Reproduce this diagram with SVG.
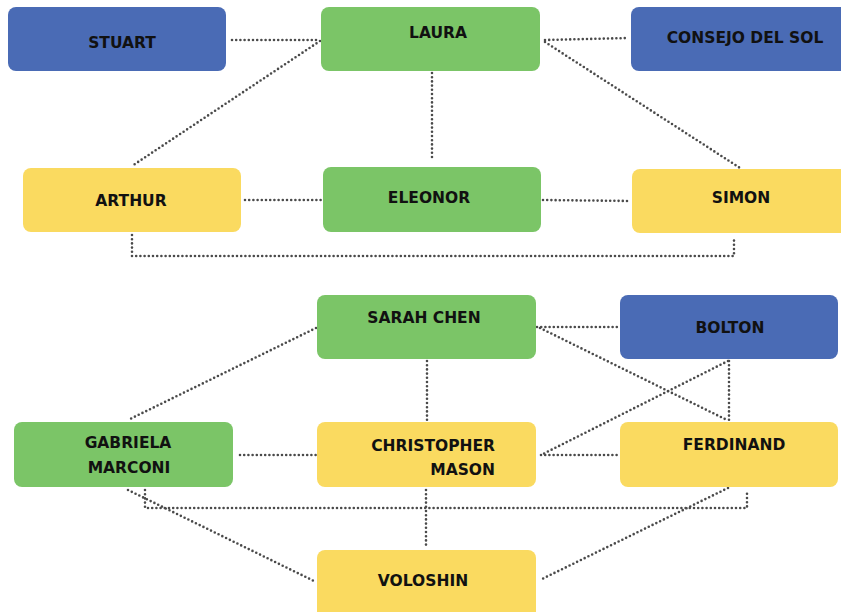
<svg xmlns="http://www.w3.org/2000/svg" width="841" height="612" viewBox="0 0 841 612">
<style>
.n{stroke:none}
.blue{fill:#4A6BB5}
.green{fill:#7BC567}
.yellow{fill:#FADA60}
text{font-family:"DejaVu Sans","Liberation Sans",sans-serif;font-weight:bold;font-size:15.5px;fill:#111;text-anchor:middle}
.c line,.c polyline{stroke:#4a4a4a;stroke-width:2.6;stroke-dasharray:0 4.2;stroke-linecap:round;fill:none}
</style>
<rect width="841" height="612" fill="#fff"/>
<g class="c" id="connectors">
<line x1="232" y1="40" x2="320" y2="40"/>
<line x1="320" y1="41" x2="132" y2="166"/>
<line x1="432" y1="73" x2="432" y2="161"/>
<line x1="545" y1="40" x2="628" y2="38"/>
<line x1="545" y1="42" x2="740" y2="168"/>
<line x1="245" y1="200" x2="322" y2="200"/>
<line x1="543" y1="200" x2="631" y2="201"/>
<polyline points="132,235 132,256 734,256 734,237"/>
<line x1="537" y1="327" x2="619" y2="327"/>
<line x1="540" y1="328" x2="727" y2="420"/>
<line x1="427" y1="361" x2="427" y2="420"/>
<line x1="316" y1="328" x2="128" y2="420"/>
<line x1="240" y1="455" x2="316" y2="455"/>
<line x1="728" y1="361" x2="541" y2="455"/>
<line x1="729" y1="361" x2="729" y2="420"/>
<line x1="541" y1="455" x2="619" y2="455"/>
<line x1="128" y1="490" x2="316" y2="582"/>
<line x1="728" y1="488" x2="540" y2="580"/>
<line x1="426" y1="490" x2="426" y2="548"/>
<polyline points="145,490 145,508 747,508 747,490"/>
</g>
<g id="stuart"><rect class="n blue" x="8" y="7" width="218" height="64" rx="8"/><text x="122" y="48">STUART</text></g>
<g id="laura"><rect class="n green" x="321" y="7" width="219" height="64" rx="8"/><text x="438" y="38">LAURA</text></g>
<g id="consejo"><rect class="n blue" x="631" y="7" width="220" height="64" rx="8"/><text x="745" y="43">CONSEJO DEL SOL</text></g>
<g id="arthur"><rect class="n yellow" x="23" y="168" width="218" height="64" rx="8"/><text x="131" y="206">ARTHUR</text></g>
<g id="eleonor"><rect class="n green" x="323" y="167" width="218" height="65" rx="8"/><text x="429" y="203">ELEONOR</text></g>
<g id="simon"><rect class="n yellow" x="632" y="169" width="220" height="64" rx="8"/><text x="741" y="203">SIMON</text></g>
<g id="sarah"><rect class="n green" x="317" y="295" width="219" height="64" rx="8"/><text x="424" y="323">SARAH CHEN</text></g>
<g id="bolton"><rect class="n blue" x="620" y="295" width="218" height="64" rx="8"/><text x="730" y="333">BOLTON</text></g>
<g id="gabriela"><rect class="n green" x="14" y="422" width="219" height="65" rx="8"/><text x="128" y="448">GABRIELA</text><text x="129" y="473">MARCONI</text></g>
<g id="christopher"><rect class="n yellow" x="317" y="422" width="219" height="65" rx="8"/><text x="495" y="451" style="text-anchor:end">CHRISTOPHER</text><text x="495" y="475" style="text-anchor:end">MASON</text></g>
<g id="ferdinand"><rect class="n yellow" x="620" y="422" width="218" height="65" rx="8"/><text x="734" y="450">FERDINAND</text></g>
<g id="voloshin"><rect class="n yellow" x="317" y="550" width="219" height="70" rx="8"/><text x="423" y="586">VOLOSHIN</text></g>
</svg>
